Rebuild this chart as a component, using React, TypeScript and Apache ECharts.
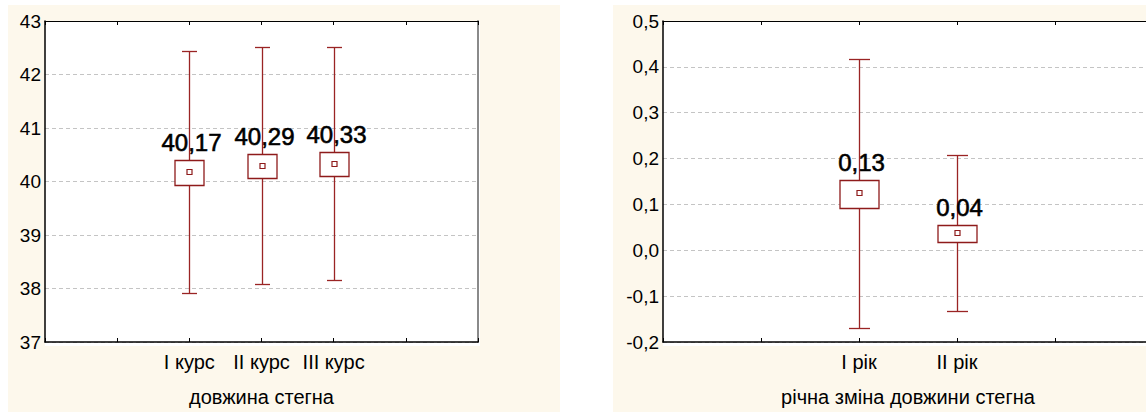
import React, { useEffect, useRef } from "react";
import * as echarts from "echarts";

// ---- data: left panel (довжина стегна) ----
const cats1 = ["I курс", "II курс", "III курс"];
const pos1 = [2, 3, 4];
const means1 = [40.17, 40.29, 40.33];
const boxLo1 = [39.93, 40.06, 40.1];
const boxHi1 = [40.4, 40.52, 40.55];
const whLo1 = [37.91, 38.08, 38.15];
const whHi1 = [42.43, 42.51, 42.52];
const yTicks1 = [37, 38, 39, 40, 41, 42, 43];

// ---- data: right panel (річна зміна довжини стегна) ----
const cats2 = ["I рік", "II рік"];
const pos2 = [2, 3];
const means2 = [0.126, 0.037];
const boxLo2 = [0.093, 0.019];
const boxHi2 = [0.154, 0.055];
const whLo2 = [-0.17, -0.133];
const whHi2 = [0.417, 0.207];
const yTicks2 = [-0.2, -0.1, 0.0, 0.1, 0.2, 0.3, 0.4, 0.5];

const title1 = "довжина стегна";
const title2 = "річна зміна довжини стегна";

const FONT = "'Liberation Sans', Arial, sans-serif";
const DARK = "#8e1b1b";
const WHISK = "#9a2424";

function renderBox(params: any, api: any) {
  const x = api.value(0);
  const m = api.value(1);
  const cx = Math.round(api.coord([x, m])[0]) + 0.5;
  const yM = api.coord([x, m])[1];
  const yBL = Math.round(api.coord([x, api.value(2)])[1]) + 0.5;
  const yBH = Math.round(api.coord([x, api.value(3)])[1]) + 0.5;
  const yWL = Math.round(api.coord([x, api.value(4)])[1]) + 0.5;
  const yWH = Math.round(api.coord([x, api.value(5)])[1]) + 0.5;
  const unit = api.size([1, 0])[0];
  const bw = Math.round(unit * 0.4);
  const cw = Math.round(unit * 0.21);
  const label = m.toFixed(2).replace(".", ",");
  const ws = { stroke: WHISK, lineWidth: 1.3 };
  return {
    type: "group",
    children: [
      { type: "line", shape: { x1: cx, y1: yWH, x2: cx, y2: yWL }, style: ws },
      { type: "line", shape: { x1: cx - cw / 2, y1: yWH, x2: cx + cw / 2, y2: yWH }, style: ws },
      { type: "line", shape: { x1: cx - cw / 2, y1: yWL, x2: cx + cw / 2, y2: yWL }, style: ws },
      { type: "rect", shape: { x: cx - bw / 2, y: yBH, width: bw, height: yBL - yBH }, style: { fill: "#fff", stroke: DARK, lineWidth: 1.3 } },
      { type: "rect", shape: { x: cx - 2.5, y: Math.round(yM) - 2.5, width: 5, height: 5 }, style: { fill: "#fff", stroke: DARK, lineWidth: 1.2 } },
      {
        type: "text",
        style: {
          text: label,
          x: cx + 2,
          y: yBH - 6,
          align: "center",
          verticalAlign: "bottom",
          fontSize: 24,
          fontFamily: FONT,
          fill: "#000",
          stroke: "#000",
          lineWidth: 0.6,
        },
      },
    ],
  };
}

function fmtComma(v: number) {
  if (Math.abs(v) < 1e-9) return "0,0";
  return v.toFixed(1).replace(".", ",");
}

export default function App() {
  const ref = useRef<HTMLDivElement>(null);
  useEffect(() => {
    if (!ref.current) return;
    const chart = echarts.init(ref.current, null, { renderer: "svg" });
    const axisBlack = { lineStyle: { color: "#000", width: 1.5 } };
    const xBase = (gridIndex: number, max: number, pos: number[], cats: string[], name: string) => ({
      type: "value",
      gridIndex,
      min: 0,
      max,
      interval: 1,
      position: "bottom",
      axisLine: { show: true, onZero: false, ...axisBlack },
      axisTick: { show: true, inside: true, length: 4, lineStyle: { color: "#000", width: 1 } },
      axisLabel: {
        show: true,
        fontSize: 20,
        fontFamily: FONT,
        color: "#000",
        margin: 10,
        formatter: (v: number) => {
          const i = pos.indexOf(v);
          return i >= 0 ? cats[i] : "";
        },
      },
      splitLine: { show: false },
      name,
      nameLocation: "middle",
      nameGap: 45,
      nameTextStyle: { fontSize: 20, fontFamily: FONT, color: "#000", verticalAlign: "top" },
    });
    const xTop = (gridIndex: number, max: number) => ({
      type: "value",
      gridIndex,
      min: 0,
      max,
      interval: 1,
      position: "top",
      axisLine: { show: true, onZero: false, lineStyle: { color: "#000", width: 1 } },
      axisTick: { show: true, inside: true, length: 4, lineStyle: { color: "#000", width: 1 } },
      axisLabel: { show: false },
      splitLine: { show: false },
    });
    const yBase = (gridIndex: number, min: number, max: number, interval: number, fmt: (v: number) => string) => ({
      type: "value",
      gridIndex,
      min,
      max,
      interval,
      position: "left",
      axisLine: { show: true, onZero: false, ...axisBlack },
      axisTick: { show: false },
      axisLabel: { fontSize: 19, fontFamily: FONT, color: "#000", margin: 4, formatter: fmt },
      splitLine: { show: true, lineStyle: { color: "#c4c4c4", type: [4, 3], width: 1 } },
    });
    chart.setOption({
      animation: false,
      graphic: [
        {
          type: "group",
          z: -10,
          silent: true,
          children: [
            { type: "rect", shape: { x: 8, y: 5, width: 552, height: 407 }, style: { fill: "#fdf8ec" } },
            { type: "rect", shape: { x: 613, y: 5, width: 560, height: 407 }, style: { fill: "#fdf8ec" } },
            { type: "rect", shape: { x: 45, y: 21, width: 435, height: 325 }, style: { fill: "#fff" } },
            { type: "rect", shape: { x: 663, y: 21, width: 510, height: 325 }, style: { fill: "#fff" } },
          ],
        },
      ],
      grid: [
        { left: 45, top: 21, width: 433, height: 322, containLabel: false },
        { left: 663, top: 21, width: 490, height: 322, containLabel: false },
      ],
      xAxis: [
        xBase(0, 6, pos1, cats1, title1),
        xTop(0, 6),
        xBase(1, 5, pos2, cats2, title2),
        xTop(1, 5),
      ],
      yAxis: [
        yBase(0, yTicks1[0], yTicks1[yTicks1.length - 1], 1, (v: number) => String(Math.round(v))),
        {
          type: "value",
          gridIndex: 0,
          min: yTicks1[0],
          max: yTicks1[yTicks1.length - 1],
          position: "right",
          axisLine: { show: true, onZero: false, lineStyle: { color: "#8a8a8a", width: 2 } },
          axisTick: { show: false },
          axisLabel: { show: false },
          splitLine: { show: false },
        },
        yBase(1, yTicks2[0], yTicks2[yTicks2.length - 1], 0.1, fmtComma),
      ],
      series: [
        {
          type: "custom",
          xAxisIndex: 0,
          yAxisIndex: 0,
          clip: false,
          renderItem: renderBox,
          encode: { x: 0, y: [1, 2, 3, 4, 5] },
          data: pos1.map((p, i) => [p, means1[i], boxLo1[i], boxHi1[i], whLo1[i], whHi1[i]]),
        },
        {
          type: "custom",
          xAxisIndex: 2,
          yAxisIndex: 2,
          clip: false,
          renderItem: renderBox,
          encode: { x: 0, y: [1, 2, 3, 4, 5] },
          data: pos2.map((p, i) => [p, means2[i], boxLo2[i], boxHi2[i], whLo2[i], whHi2[i]]),
        },
      ],
    });
    return () => chart.dispose();
  }, []);
  return (
    <div style={{ position: "fixed", left: 0, top: 0, width: 1146, height: 412, overflow: "hidden", background: "#fff" }}>
      <div ref={ref} style={{ width: 1160, height: 412 }} />
    </div>
  );
}
